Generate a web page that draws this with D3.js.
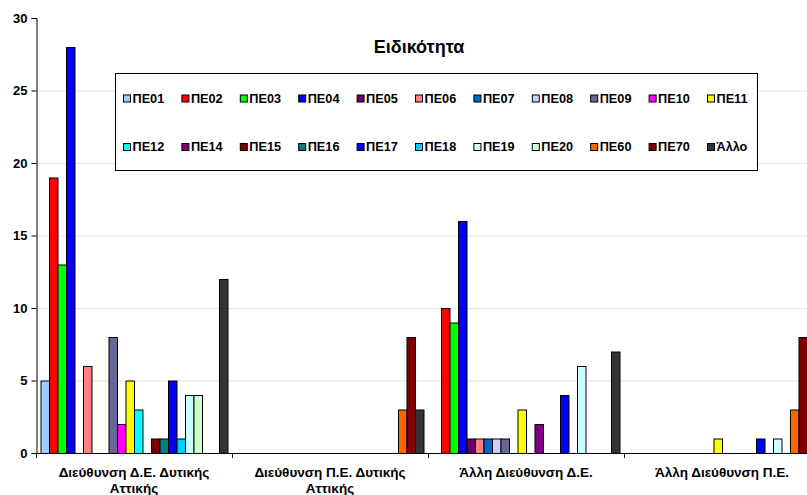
<!DOCTYPE html>
<html>
<head>
<meta charset="utf-8">
<script src="https://cdn.jsdelivr.net/npm/d3@7"></script>
<style>
  html, body { margin: 0; padding: 0; background: #fff; }
  svg { display: block; font-family: "Liberation Sans", Arial, sans-serif; }
</style>
</head>
<body>
<svg id="chart" width="807" height="495"></svg>
<script>
// Categories (departments) and teaching specialties
const categories = [
  ["Διεύθυνση Δ.Ε. Δυτικής", "Αττικής"],
  ["Διεύθυνση Π.Ε. Δυτικής", "Αττικής"],
  ["Άλλη Διεύθυνση Δ.Ε."],
  ["Άλλη Διεύθυνση Π.Ε."]
];
const specialties = ["ΠΕ01","ΠΕ02","ΠΕ03","ΠΕ04","ΠΕ05","ΠΕ06","ΠΕ07","ΠΕ08","ΠΕ09","ΠΕ10","ΠΕ11",
                     "ΠΕ12","ΠΕ14","ΠΕ15","ΠΕ16","ΠΕ17","ΠΕ18","ΠΕ19","ΠΕ20","ΠΕ60","ΠΕ70","Άλλο"];
const colors = ["#99CCFF","#FF0000","#00FF00","#0000FF","#660066","#FF8080","#0066CC","#CCCCFF","#666699","#FF00FF","#FFFF00",
                "#00FFFF","#800080","#800000","#008080","#0000FF","#00CCFF","#CCFFFF","#CCFFCC","#FF6600","#800000","#333333"];

// Counts per specialty, one array per department (same order as specialties)
const deDytikisAttikis   = [5,19,13,28,0,6,0,0,8,2,5, 3,0,1,1,5,1,4,4,0,0,12];
const peDytikisAttikis   = [0,0,0,0,0,0,0,0,0,0,0, 0,0,0,0,0,0,0,0,3,8,3];
const allHDE             = [0,10,9,16,1,1,1,1,1,0,3, 0,2,0,0,4,0,6,0,0,0,7];
const allHPE             = [0,0,0,0,0,0,0,0,0,0,1, 0,0,0,0,1,0,1,0,3,8,0];
const seriesByCategory = [deDytikisAttikis, peDytikisAttikis, allHDE, allHPE];

const yTicks = [0,5,10,15,20,25,30];
const legendTitle = "Ειδικότητα";

const svg = d3.select("#chart");
const plot = {left: 36, right: 820, top: 18, bottom: 453};

const x0 = d3.scaleBand().domain(d3.range(categories.length))
  .range([plot.left, plot.right]).paddingInner(0).paddingOuter(0);
const x1 = d3.scaleBand().domain(d3.range(specialties.length))
  .range([0, x0.bandwidth()]).paddingInner(0).paddingOuter(0.53);
const y = d3.scaleLinear().domain([0, 30]).range([plot.bottom, plot.top]);

// Gridlines
svg.append("g").selectAll("line").data(yTicks.filter(t => t > 0 && t < 30)).join("line")
  .attr("x1", plot.left).attr("x2", plot.right)
  .attr("y1", d => y(d) + 0.5).attr("y2", d => y(d) + 0.5)
  .attr("stroke", "#e3e3e3").attr("stroke-width", 1);

// Bars
const groups = svg.append("g").selectAll("g").data(seriesByCategory).join("g")
  .attr("transform", (d, i) => `translate(${x0(i)},0)`);
groups.selectAll("rect")
  .data(d => d.map((v, j) => ({v, j})).filter(e => e.v > 0))
  .join("rect")
  .attr("x", e => x1(e.j) + 0.5)
  .attr("y", e => y(e.v) + 0.5)
  .attr("width", x1.bandwidth())
  .attr("height", e => y(0) - y(e.v))
  .attr("fill", e => colors[e.j])
  .attr("stroke", "#000").attr("stroke-width", 1);

// Y axis
const yAxis = d3.axisLeft(y).tickValues(yTicks).tickSize(5).tickPadding(4);
const gy = svg.append("g").attr("transform", `translate(${plot.left + 0.5},0)`).call(yAxis);
gy.select(".domain").attr("stroke", "#000");
gy.selectAll(".tick line").attr("stroke", "#000");
gy.selectAll(".tick text").attr("font-size", 13).attr("font-weight", "bold")
  .attr("fill", "#000").attr("font-family", "Liberation Sans, Arial, sans-serif");

// X axis with ticks at category boundaries
svg.append("line").attr("x1", plot.left).attr("x2", plot.right)
  .attr("y1", plot.bottom + 0.5).attr("y2", plot.bottom + 0.5).attr("stroke", "#000");
svg.append("g").selectAll("line").data(d3.range(categories.length + 1)).join("line")
  .attr("x1", i => (i < categories.length ? x0(i) : plot.right) + 0.5)
  .attr("x2", i => (i < categories.length ? x0(i) : plot.right) + 0.5)
  .attr("y1", plot.bottom).attr("y2", plot.bottom + 5).attr("stroke", "#000");

const xl = svg.append("g").selectAll("text").data(categories).join("text")
  .attr("x", (d, i) => x0(i) + x0.bandwidth() / 2)
  .attr("y", 477)
  .attr("text-anchor", "middle").attr("font-size", 13.5).attr("font-weight", "bold").attr("fill", "#000");
xl.selectAll("tspan").data(d => d).join("tspan")
  .attr("x", function () { return d3.select(this.parentNode).attr("x"); })
  .attr("dy", (d, k) => k === 0 ? 0 : 15.5)
  .text(d => d);

// Legend
const legend = svg.append("g");
legend.append("rect").attr("x", 115.5).attr("y", 73.5).attr("width", 642).attr("height", 97)
  .attr("fill", "#fff").attr("stroke", "#000").attr("stroke-width", 1);
legend.append("text").attr("x", 419).attr("y", 53).attr("text-anchor", "middle")
  .attr("font-size", 18).attr("font-weight", "bold").text(legendTitle);
const perRow = 11;
const items = legend.selectAll("g.item").data(specialties).join("g").attr("class", "item")
  .attr("transform", (d, i) => `translate(${123.5 + (i % perRow) * 58.4},${(i < perRow ? 95 : 143.5)})`);
items.append("rect").attr("width", 7).attr("height", 7)
  .attr("fill", (d, i) => colors[i]).attr("stroke", "#000").attr("stroke-width", 1);
items.append("text").attr("x", 9).attr("y", 7.5)
  .attr("font-size", 12.7).attr("font-weight", "bold").text(d => d);
</script>
</body>
</html>
